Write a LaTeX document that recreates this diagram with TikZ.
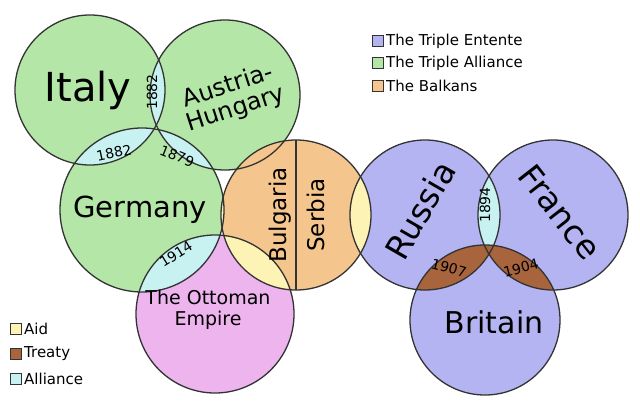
\documentclass[tikz,border=0pt]{standalone}
\usepackage{fontspec}
\setmainfont{DejaVu Sans}
\begin{document}
\begin{tikzpicture}[x=1pt,y=-1pt,
  circ/.style={draw=black!80,line width=1.3pt},
  sq/.style={draw=black!80,line width=1pt,minimum size=11pt,inner sep=0pt},
  lg/.style={font=\fontsize{15}{15}\selectfont,anchor=west,inner sep=1pt},
  yr/.style={font=\fontsize{14}{14}\selectfont,inner sep=0pt}]
\definecolor{gr}{HTML}{B4E6A8}\definecolor{bl}{HTML}{B4B4F2}
\definecolor{orr}{HTML}{F5C58E}\definecolor{pk}{HTML}{EEB4EE}
\definecolor{ye}{HTML}{FDF3B4}\definecolor{br}{HTML}{A8643C}
\definecolor{cy}{HTML}{C8F2F2}
\fill[white] (0,0) rectangle (640,418);
\useasboundingbox (0,0) rectangle (640,418);
\def\It{(90,90) circle (75)}
\def\Au{(225,95) circle (75)}
\def\Ge{(142,210) circle (82)}
\def\Ot{(215,314) circle (79)}
\def\Bu{(296,215) circle (75)}
\def\Ru{(425,215) circle (75)}
\def\Fr{(553,215) circle (75)}
\def\Br{(485,320) circle (75)}
\fill[gr] \It; \fill[gr] \Au; \fill[gr] \Ge; \fill[pk] \Ot; \fill[orr] \Bu;
\fill[bl] \Ru; \fill[bl] \Fr; \fill[bl] \Br;
\begin{scope}\clip \It; \fill[cy] \Au; \fill[cy] \Ge; \end{scope}
\begin{scope}\clip \Au; \fill[cy] \Ge; \end{scope}
\begin{scope}\clip \Ge; \fill[cy] \Ot; \fill[ye] \Bu; \end{scope}
\begin{scope}\clip \Ot; \fill[ye] \Bu; \end{scope}
\begin{scope}\clip \Bu; \fill[ye] \Ru; \end{scope}
\begin{scope}\clip \Ru; \fill[cy] \Fr; \fill[br] \Br; \end{scope}
\begin{scope}\clip \Fr; \fill[br] \Br; \end{scope}
\foreach \c in {\It,\Au,\Ge,\Ot,\Bu,\Ru,\Fr,\Br} \draw[circ] \c;
\coordinate (st) at (296,140); \coordinate (sb) at (296,290);
\draw[circ] (st) -- (sb);
\node[font=\fontsize{40}{40}\selectfont] (it) at (88,90) {Italy};
\node[font=\fontsize{24}{24}\selectfont,rotate=18,align=center] (au) at (232,98) {Austria-\\Hungary};
\node[font=\fontsize{29}{29}\selectfont] (ge) at (140,210) {Germany};
\node[font=\fontsize{19}{21}\selectfont,align=center] (ot) at (208,310) {The Ottoman\\Empire};
\node[font=\fontsize{23}{23}\selectfont,rotate=90] (bu) at (280,215) {Bulgaria};
\node[font=\fontsize{23}{23}\selectfont,rotate=90] (se) at (316,215) {Serbia};
\node[font=\fontsize{33}{33}\selectfont,rotate=60,inner sep=0pt] (ru) at (420,210) {Russia};
\node[font=\fontsize{33}{33}\selectfont,rotate=-52,inner sep=0pt] (fr) at (560,212) {France};
\node[font=\fontsize{30}{30}\selectfont] (br) at (494,322) {Britain};
\node[yr,rotate=90] (y1) at (152,92) {1882};
\node[yr,rotate=12] (y2) at (114,153) {1882};
\node[yr,rotate=-22] (y3) at (177,156) {1879};
\node[yr,rotate=32] (y4) at (176,254) {1914};
\node[yr,rotate=90] (y5) at (485,205) {1894};
\node[yr,rotate=-15] (y6) at (449,268) {1907};
\node[yr,rotate=15] (y7) at (521,268) {1904};
\node[sq,fill=bl] (l1) at (378,41) {}; \node[lg] at (385,41) {The Triple Entente};
\node[sq,fill=gr] (l2) at (378,63) {}; \node[lg] at (385,63) {The Triple Alliance};
\node[sq,fill=orr] (l3) at (378,86) {}; \node[lg] at (385,86) {The Balkans};
\node[sq,fill=ye] (l4) at (16,329) {}; \node[lg] at (23,329) {Aid};
\node[sq,fill=br] (l5) at (16,354) {}; \node[lg] at (23,354) {Treaty};
\node[sq,fill=cy] (l6) at (16,379) {}; \node[lg] at (23,379) {Alliance};
\end{tikzpicture}
\end{document}
